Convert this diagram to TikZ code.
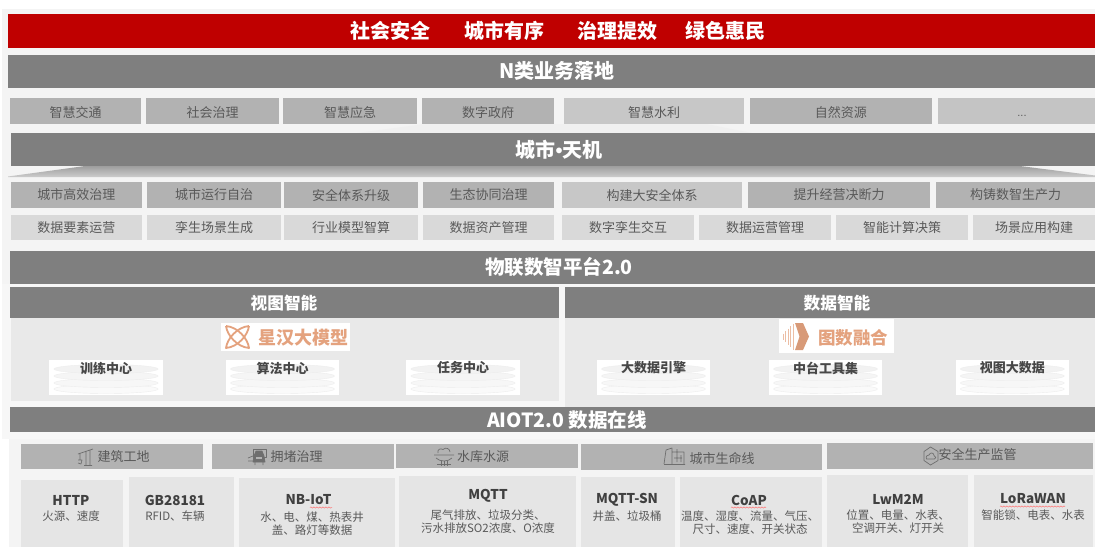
\documentclass[tikz,border=0pt]{standalone}
\usepackage{fontspec}
\setmainfont{Noto Sans CJK SC}
\newfontfamily\latinface{Liberation Sans}
\usetikzlibrary{calc,decorations.pathmorphing}
\definecolor{barred}{HTML}{BF0000}
\definecolor{bargrey}{HTML}{7F7F7F}
\definecolor{midgrey}{HTML}{B2B2B2}
\definecolor{litegrey}{HTML}{C7C7C7}
\definecolor{palegrey}{HTML}{D9D9D9}
\definecolor{cardgrey}{HTML}{E5E5E5}
\definecolor{panelgrey}{HTML}{E9E9E9}
\definecolor{pagegrey}{HTML}{F4F4F4}
\definecolor{inkgrey}{HTML}{595959}
\definecolor{logoorange}{HTML}{E4A27E}
\definecolor{icongrey}{HTML}{6E6E6E}
\tikzset{
  boxlabel/.style={inner sep=0pt,text=inkgrey,font=\fontsize{13}{15}\selectfont},
  barlabel/.style={inner sep=0pt,text=white,font=\fontsize{19.5}{23}\selectfont\bfseries},
  panellabel/.style={inner sep=0pt,text=white,font=\fontsize{16.7}{20}\selectfont\bfseries},
  cardhead/.style={inner sep=0pt,text=black!75,font=\fontsize{13.5}{16}\selectfont\bfseries},
  cardbody/.style={inner sep=0pt,text=inkgrey,align=center,font=\fontsize{11.5}{13.3}\selectfont},
  disklabel/.style={inner sep=0pt,text=black!72,font=\fontsize{13}{15}\selectfont\bfseries},
  logolabel/.style={inner sep=0pt,text=logoorange,font=\fontsize{18}{21}\selectfont\bfseries},
  iconline/.style={draw=icongrey,line width=.7pt,line join=round},
  spellmark/.style={draw=red!55,line width=.5pt,decorate,decoration={snake,amplitude=.6pt,segment length=3pt}},
  diskring/.style={fill=black!#1,draw=black!7,line width=.4pt}
}
% filled box with its text centred in it: [fill]{name}{x1}{y1}{x2}{y2}{text}
\newcommand\cellbox[7][midgrey]{%
  \fill[#1] (#3,#4) rectangle (#5,#6);
  \node[boxlabel] (#2) at ($(#3,#4)!.5!(#5,#6)$) {#7};}
% disk stack in a white box: {name}{x1}{x2}{text}
\newcommand\diskbox[4]{%
  \fill[white] (#2,360) rectangle (#3,395);
  \coordinate (#1c) at ($(#2,0)!.5!(#3,0)$);
  \foreach \yy/\cc in {389/2,383/3,376/4,369/5}{
    \path[diskring=\cc] ($(#1c)+(0,\yy)$) ellipse [x radius=52,y radius=4.5];}
  \node[disklabel] (#1) at ($(#1c)+(0,368)$) {#4};}
\begin{document}
\begin{tikzpicture}[x=1pt,y=-1pt]
\useasboundingbox (0,0) rectangle (1095,547);
% page grounds
\fill[white] (0,0) rectangle (1095,547);
\fill[pagegrey] (2,9) rectangle (1095,284);
\fill[black!3] (2,284) rectangle (1095,439);
\fill[pagegrey] (9,439) rectangle (1095,547);
% top band
\fill[barred] (8,14) rectangle (1095,48);
\node[barlabel,font=\fontsize{20}{24}\selectfont\bfseries] (g1) at (390.5,31) {社会安全};
\node[barlabel,font=\fontsize{20}{24}\selectfont\bfseries] (g2) at (504,31) {城市有序};
\node[barlabel,font=\fontsize{20}{24}\selectfont\bfseries] (g3) at (617.5,31) {治理提效};
\node[barlabel,font=\fontsize{20}{24}\selectfont\bfseries] (g4) at (725,31) {绿色惠民};
% N business
\fill[bargrey] (8,55) rectangle (1095,88);
\node[barlabel,font=\fontsize{20}{24}\selectfont\bfseries] (nbar) at (557,71) {N类业务落地};
\begin{scope}
\tikzset{boxlabel/.append style={yshift=-1.5pt}}
\cellbox{a1}{10}{98}{141}{124}{智慧交通}
\cellbox{a2}{146}{98}{279}{124}{社会治理}
\cellbox{a3}{283}{98}{417}{124}{智慧应急}
\cellbox{a4}{422}{98}{554}{124}{数字政府}
\cellbox[litegrey]{a5}{564}{98}{744}{124}{智慧水利}
\cellbox{a6}{750}{98}{931.5}{124}{自然资源}
\end{scope}
\fill[litegrey!85!midgrey] (937.5,98) rectangle (1095,124);
\node[boxlabel,font=\latinface\fontsize{11}{13}\selectfont] (a7) at (1022,115.5) {...};
% Tianji
\fill[black!6] (357,133) -- (425,124) -- (706,124) -- (752,133) -- cycle;
\shade[top color=black!38,bottom color=black!20] (8,176.5) -- (85,166) -- (1020,166) -- (1095,175.5) -- (1095,177) -- (8,177) -- cycle;
\fill[bargrey] (10.7,133) rectangle (1095,166);
\node[barlabel,font=\fontsize{20}{24}\selectfont\bfseries] (tbar) at (559,150) {城市{\latinface •}天机};
\cellbox{b1}{10.7}{182}{142}{208}{城市高效治理}
\cellbox{b2}{147}{182}{281}{208}{城市运行自治}
\cellbox{b3}{284}{182}{418}{208}{安全体系升级}
\cellbox{b4}{423}{182}{554}{208}{生态协同治理}
\cellbox[litegrey]{b5}{562}{182}{742}{208}{构建大安全体系}
\cellbox{b6}{748}{182}{930}{208}{提升经营决断力}
\cellbox{b7}{936}{182}{1095}{208}{构铸数智生产力}
\cellbox[palegrey]{c1}{10.7}{215}{142}{239.5}{数据要素运营}
\cellbox[palegrey]{c2}{147}{215}{281}{239.5}{孪生场景生成}
\cellbox[palegrey]{c3}{284}{215}{418}{239.5}{行业模型智算}
\cellbox[palegrey]{c4}{423}{215}{554}{239.5}{数据资产管理}
\cellbox[palegrey]{c5}{562}{215}{694}{239.5}{数字孪生交互}
\cellbox[palegrey]{c6}{699}{215}{831}{239.5}{数据运营管理}
\cellbox[palegrey]{c7}{836}{215}{968}{239.5}{智能计算决策}
\cellbox[palegrey]{c8}{973}{215}{1095}{239.5}{场景应用构建}
% platform
\fill[bargrey] (10,251) rectangle (1095,284);
\node[barlabel] (pbar) at (559,267) {物联数智平台2.0};
% two panels
\fill[panelgrey] (11.4,318) rectangle (559,400.7);
\fill[panelgrey] (565,318) rectangle (1095,407);
\fill[bargrey] (9.6,287) rectangle (559,318);
\fill[bargrey] (565,287) rectangle (1095,318);
\node[panellabel] (vh) at (284,303) {视图智能};
\node[panellabel] (dh) at (837,303) {数据智能};
% xinghan logo
\fill[white] (221,323) rectangle (350,351);
\draw[logoorange,line width=1.8pt,line join=round]
  (226,326) .. controls (238,327) and (248,339) .. (249,348)
  .. controls (237,347) and (227,335) .. (226,326);
\draw[logoorange,line width=1.8pt,line join=round]
  (249,326) .. controls (237,327) and (227,339) .. (226,348)
  .. controls (238,347) and (248,335) .. (249,326);
\node[logolabel] (xh) at (303,337.5) {星汉大模型};
% tushu logo
\fill[white] (779,319) rectangle (894,353);
\foreach \xx/\hh in {783/3,785.5/5.5,788/8,790.5/10.5,793/13}{
  \draw[logoorange!70,line width=1pt] (\xx,336.5-\hh) -- (\xx,336.5+\hh);}
\fill[logoorange!95!black] (795,323) -- (803,323) -- (809,336.5) -- (803,350) -- (795,350) -- (799.5,336.5) -- cycle;
\node[logolabel,font=\fontsize{17.5}{21}\selectfont\bfseries] (ts) at (853,338) {图数融合};
% disks
\diskbox{d1}{49}{163}{训练中心}
\diskbox{d2}{226}{339}{算法中心}
\diskbox{d3}{406}{520}{任务中心}
\diskbox{d4}{597}{710}{大数据引擎}
\diskbox{d5}{769}{882}{中台工具集}
\diskbox{d6}{955.6}{1069}{视图大数据}
% AIOT
\fill[bargrey] (10,407) rectangle (1095,432);
\node[barlabel] (abar) at (567,420) {AIOT2.0 数据在线};
% scenario headers
\fill[midgrey] (21,444) rectangle (203,469);
\node[boxlabel] (s1) at (123.5,457) {建筑工地};
\fill[midgrey] (212,444) rectangle (394,469);
\node[boxlabel] (s2) at (296.5,457) {拥堵治理};
\fill[midgrey] (396,443.5) rectangle (578,468);
\node[boxlabel] (s3) at (483,457) {水库水源};
\fill[midgrey] (581,444) rectangle (822,470);
\node[boxlabel] (s4) at (722,458) {城市生命线};
\fill[midgrey] (827,443) rectangle (1093,469);
\node[boxlabel] (s5) at (977.5,455) {安全生产监管};
% crane icon
\draw[iconline] (78,454) -- (93,449) (86,451) -- (86,465) (90,450) -- (90,465) (84,465.5) -- (92,465.5)
  (80,453.5) -- (80,460) (78,460) -- (82,460) -- (81,464) -- (78,463);
% car icon
\draw[iconline,fill=midgrey] (253,449) rectangle (266,457);
\draw[iconline,fill=icongrey] (254,456) -- (256,451) -- (262,451) -- (264,456) -- (265,462) -- (253,462) -- cycle;
\fill[midgrey] (256,457) rectangle (262,459);
\draw[iconline] (248,458) -- (253,456) (248,461) -- (253,461) (255,462) -- (255,465) (263,462) -- (263,465);
% water icon
\draw[iconline] (438,453) .. controls (437,449) and (441,448) .. (443,449.5)
  .. controls (446,446.5) and (450,449) .. (450,452);
\draw[iconline] (434,455) -- (454,455) (436,458) .. controls (440,462) and (448,462) .. (452,458);
\draw[iconline] (437,464) -- (451,464) (441,461) -- (441,466) (444,461) -- (444,466) (447,461) -- (447,466);
% city icon
\draw[iconline] (664,464) -- (666,450) -- (672,448) -- (672,464) (672,452) -- (684,452) -- (684,464)
  (664,464.5) -- (685,464.5) (677,449) -- (677,462) (681,455) -- (681,462) (674,458) -- (682,458);
% hex icon
\draw[iconline] (930.5,447) -- (938,451.5) -- (938,460.5) -- (930.5,465) -- (924,460.5) -- (924,451.5) -- cycle;
\draw[iconline] (926.5,459) .. controls (925,456) and (928,455) .. (929,455)
  .. controls (930,452) and (934,452.5) .. (934,455.5) .. controls (936.5,456) and (936,459) .. (934.5,459) -- cycle;
% protocol cards
\fill[cardgrey] (21,480) rectangle (123,547);
\node[cardhead] (h1) at (71,500) {HTTP};
\node[cardbody] (t1) at (71,516) {火源、速度};
\fill[cardgrey] (129,477) rectangle (234,547);
\node[cardhead] (h2) at (175,500) {GB28181};
\node[cardbody] (t2) at (175,516) {RFID、车辆};
\fill[cardgrey] (239,478) rectangle (395,547);
\node[cardhead] (h3) at (308.5,500) {NB-IoT};
\node[cardbody] (t3) at (312,523.5) {水、电、煤、热表井\\盖、路灯等数据};
\draw[spellmark] (310,507.5) -- (332,507.5);
\fill[cardgrey] (399,476) rectangle (576,547);
\node[cardhead] (h4) at (488,496) {MQTT};
\node[cardbody] (t4) at (488,521.5) {尾气排放、垃圾分类、\\污水排放SO2浓度、O浓度};
\fill[cardgrey] (581,477) rectangle (674.5,547);
\node[cardhead] (h5) at (627,500) {MQTT-SN};
\node[cardbody] (t5) at (627,516) {井盖、垃圾桶};
\fill[cardgrey] (680,477) rectangle (822,547);
\node[cardhead] (h6) at (749,500) {CoAP};
\node[cardbody] (t6) at (750,522.5) {温度、湿度、流量、气压、\\尺寸、速度、开关状态};
\draw[spellmark] (731,507.5) -- (766,507.5);
\fill[cardgrey] (827,475) rectangle (968,547);
\node[cardhead] (h7) at (898,499) {LwM2M};
\node[cardbody] (t7) at (898,521.5) {位置、电量、水表、\\空调开关、灯开关};
\fill[cardgrey] (974,475) rectangle (1093,547);
\node[cardhead] (h8) at (1033,499) {LoRaWAN};
\node[cardbody] (t8) at (1033,515) {智能锁、电表、水表};
\draw[spellmark] (1000,506.5) -- (1065,506.5);
\end{tikzpicture}
\end{document}
